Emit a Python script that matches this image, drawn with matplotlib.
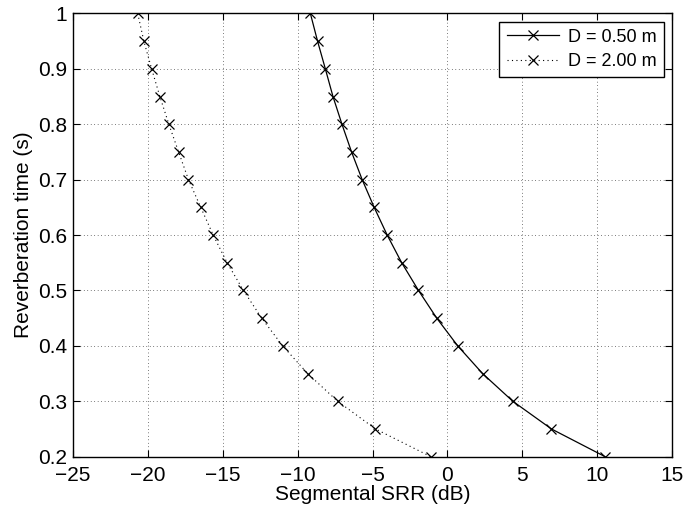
import matplotlib
matplotlib.use("Agg")
import matplotlib.pyplot as plt
from matplotlib.ticker import FuncFormatter

plt.rcParams["font.family"] = ["Liberation Sans", "DejaVu Sans"]

# reverberation time (s), same grid for both source distances
rt = [1.00, 0.95, 0.90, 0.85, 0.80, 0.75, 0.70, 0.65, 0.60,
      0.55, 0.50, 0.45, 0.40, 0.35, 0.30, 0.25, 0.20]
# segmental SRR (dB)
srr_050 = [-9.15, -8.67, -8.15, -7.64, -7.04, -6.40, -5.69, -4.89, -4.02,
           -3.05, -1.93, -0.71, 0.69, 2.35, 4.37, 6.95, 10.53]
srr_200 = [-20.68, -20.27, -19.75, -19.20, -18.60, -17.95, -17.29, -16.47, -15.64,
           -14.71, -13.62, -12.40, -11.00, -9.33, -7.33, -4.80, -1.11]

fig = plt.figure(figsize=(6.85, 5.16), dpi=100)
ax = fig.add_axes([0.1066, 0.115, 0.8744, 0.859])

ax.plot(srr_050, rt, color="k", ls="-", marker="x", lw=0.9, ms=6.5, mew=0.9,
        label="D = 0.50 m")
ax.plot(srr_200, rt, color="k", ls=(0, (1, 3)), marker="x", lw=0.8, ms=6.5, mew=0.9,
        label="D = 2.00 m")

ax.set_xlim(-25, 15)
ax.set_ylim(0.2, 1.0)
ax.set_xticks(range(-25, 16, 5))
ax.set_yticks([0.2, 0.3, 0.4, 0.5, 0.6, 0.7, 0.8, 0.9, 1.0])
ax.yaxis.set_major_formatter(FuncFormatter(lambda v, p: f"{v:g}"))
ax.tick_params(direction="in", top=True, right=True, labelsize=15, length=5, width=0.8)
ax.tick_params(axis="x", pad=7)
ax.tick_params(axis="y", pad=4)
ax.grid(True, color="k", linestyle=(0, (1, 4)), lw=0.5)
for s in ax.spines.values():
    s.set_linewidth(1.0)

ax.set_xlabel("Segmental SRR (dB)", fontsize=15, labelpad=0)
ax.set_ylabel("Reverberation time (s)", fontsize=15, labelpad=4)

leg = ax.legend(loc="upper right", fontsize=13, fancybox=False, framealpha=1,
                edgecolor="k", borderaxespad=0.45, handlelength=2.9,
                handletextpad=0.5, borderpad=0.4, labelspacing=0.4)
leg.get_frame().set_linewidth(1.0)

fig.savefig("out.png", dpi=100)
